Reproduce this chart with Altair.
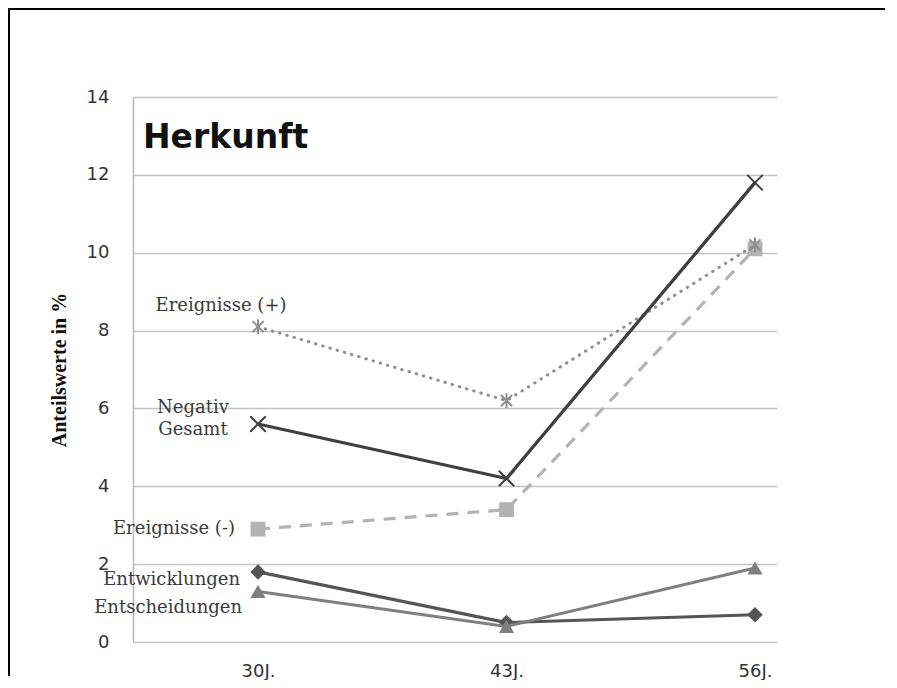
import json
import altair as alt
import pandas as pd

# ---- data ----
categories = ["30J.", "43J.", "56J."]
negativ_gesamt = [5.6, 4.2, 11.8]
ereignisse_plus = [8.1, 6.2, 10.2]
ereignisse_minus = [2.9, 3.4, 10.1]
entwicklungen = [1.8, 0.5, 0.7]
entscheidungen = [1.3, 0.4, 1.9]
y_ticks = [0, 2, 4, 6, 8, 10, 12, 14]

chart_title = "Herkunft"
y_title = "Anteilswerte in %"

W, H = 644, 545
PAD = {"left": 125, "top": 89, "right": 112, "bottom": 38}

x_scale = alt.Scale(domain=[-0.503, 2.0885], nice=False, zero=False)
y_scale = alt.Scale(domain=[0, 14], nice=False, zero=True)

x_axis = alt.Axis(
    values=[0, 1, 2],
    labelExpr=json.dumps(categories) + "[datum.value]",
    grid=False, ticks=False, domain=False,
    labelFont="DejaVu Sans", labelFontSize=18, labelColor="#333333",
    labelPadding=20, title=None,
)
y_axis = alt.Axis(
    values=y_ticks, grid=True, gridColor="#c4c4c4", gridWidth=1.5,
    ticks=False, domain=True, domainColor="#b8b8b8", domainWidth=1.5,
    labelFont="DejaVu Sans", labelFontSize=18, labelColor="#333333",
    labelPadding=24,
    title=y_title, titleFont="Liberation Serif", titleFontSize=20,
    titleFontWeight="bold", titleColor="#111111", titlePadding=17,
)


def series_df(name, values):
    return pd.DataFrame({
        "series": name,
        "idx": list(range(len(categories))),
        "category": categories,
        "value": values,
    })


X_PATH = "M-1,-1L1,1M-1,1L1,-1"
AST_PATH = "M-0.75,-0.75L0.75,0.75M-0.75,0.75L0.75,-0.75M0,-1L0,1"

series_specs = [
    # name, values, color, width, dash, shape, size, filled, pointStrokeWidth
    ("Ereignisse (-)", ereignisse_minus, "#b3b3b3", 3.2, [12, 9], "square", 220, True, 0),
    ("Ereignisse (+)", ereignisse_plus, "#8f8f8f", 3, [0.5, 7], AST_PATH, 220, False, 2),
    ("Entwicklungen", entwicklungen, "#555555", 3.2, None, "diamond", 240, True, 0),
    ("Entscheidungen", entscheidungen, "#7f7f7f", 3, None, "triangle-up", 230, True, 0),
    ("Negativ Gesamt", negativ_gesamt, "#3f3f3f", 3.3, None, X_PATH, 240, False, 2),
]

layers = []
for name, vals, color, width, dash, shape, size, filled, psw in series_specs:
    d = series_df(name, vals)
    base = alt.Chart(d).encode(
        x=alt.X("idx:Q", scale=x_scale, axis=x_axis),
        y=alt.Y("value:Q", scale=y_scale, axis=y_axis),
    )
    line_kwargs = dict(color=color, strokeWidth=width)
    if dash:
        line_kwargs["strokeDash"] = dash
        line_kwargs["strokeCap"] = "round" if dash[0] < 2 else "butt"
    layers.append(base.mark_line(**line_kwargs))
    pt_kwargs = dict(shape=shape, size=size, opacity=1)
    if filled:
        pt_kwargs.update(filled=True, fill=color, stroke=color, strokeWidth=0)
    else:
        pt_kwargs.update(filled=False, stroke=color, strokeWidth=psw)
    layers.append(base.mark_point(**pt_kwargs))

# series labels next to the first category point
label_specs = [
    ("Ereignisse (+)", "Ereignisse (+)", ereignisse_plus, "center", -37, -21),
    ("Negativ", "Negativ Gesamt", negativ_gesamt, "center", -65, -16),
    ("Gesamt", "Negativ Gesamt", negativ_gesamt, "center", -65, 6),
    ("Ereignisse (-)", "Ereignisse (-)", ereignisse_minus, "right", -23, 0),
    ("Entwicklungen", "Entwicklungen", entwicklungen, "right", -18, 8),
    ("Entscheidungen", "Entscheidungen", entscheidungen, "right", -16, 17),
]
for text, sname, vals, align, dx, dy in label_specs:
    d = series_df(sname, vals).iloc[[0]]
    layers.append(
        alt.Chart(d).mark_text(
            text=text, font="DejaVu Serif", fontSize=18, color="#3a3a3a",
            align=align, baseline="middle", dx=dx, dy=dy,
        ).encode(
            x=alt.X("idx:Q", scale=x_scale, axis=x_axis),
            y=alt.Y("value:Q", scale=y_scale, axis=y_axis),
        )
    )

dummy = pd.DataFrame({"a": [0]})
title_layer = alt.Chart(dummy).mark_text(
    text=chart_title, font="DejaVu Sans", fontSize=33, fontWeight="bold",
    align="left", baseline="alphabetic", color="#111111",
).encode(x=alt.value(10), y=alt.value(51))

# frame of the original figure (top and left edges only; the rest is cropped)
right_edge = W + PAD["right"] - 4
bottom_edge = H + PAD["bottom"] - 4
border_top = alt.Chart(dummy).mark_rule(stroke="#000000", strokeWidth=2).encode(
    x=alt.value(-125), x2=alt.value(right_edge), y=alt.value(-88)
)
border_left = alt.Chart(dummy).mark_rule(stroke="#000000", strokeWidth=2).encode(
    x=alt.value(-124), y=alt.value(-89), y2=alt.value(bottom_edge)
)

chart = alt.layer(*layers, title_layer, border_top, border_left).properties(
    width=W, height=H,
    autosize=alt.AutoSizeParams(type="none"),
    padding=PAD,
    background="white",
).configure_view(stroke=None)

chart.save("out.html", embed_options={"renderer": "svg", "actions": False})
